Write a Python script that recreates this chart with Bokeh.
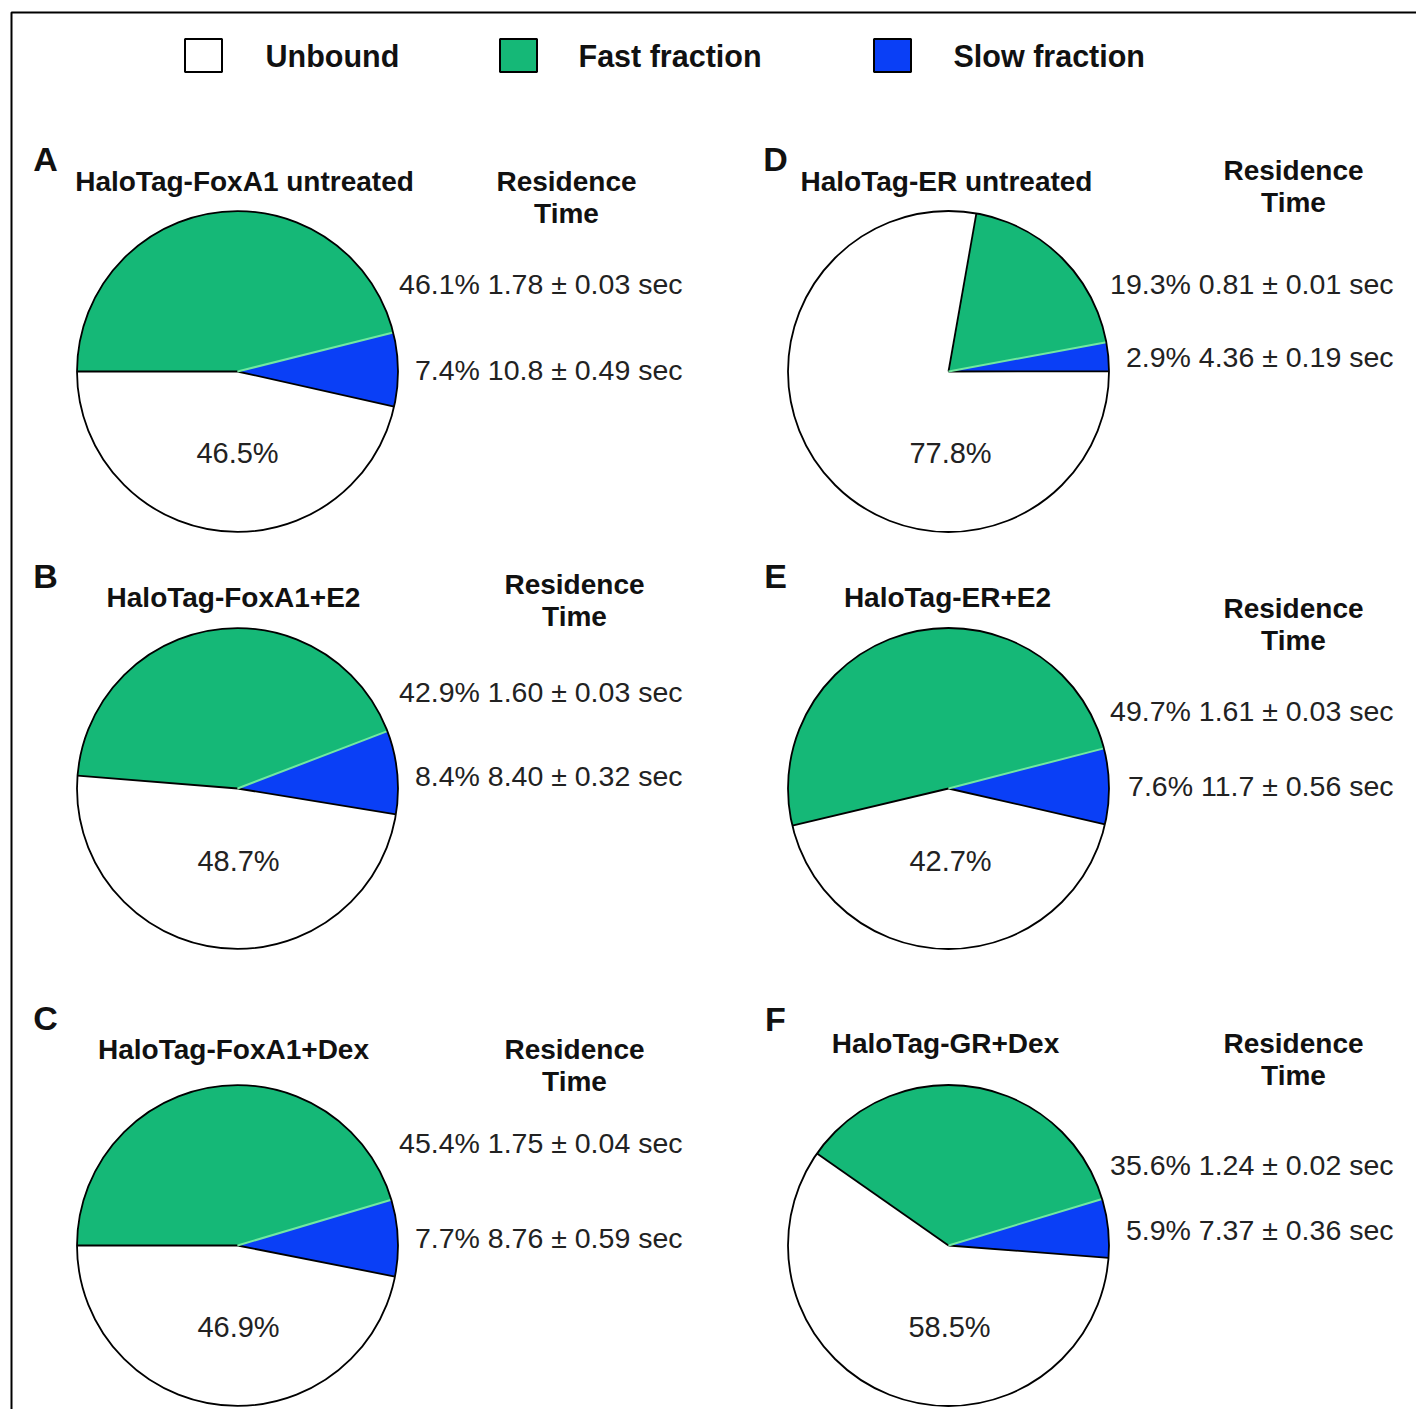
import math
from bokeh.plotting import figure
from bokeh.models import Range1d
from bokeh.core.properties import value
from bokeh.embed import file_html
from bokeh.resources import INLINE

# ---------------- data ----------------
panel_letters = ["A", "B", "C", "D", "E", "F"]
titles = ["HaloTag-FoxA1 untreated", "HaloTag-FoxA1+E2", "HaloTag-FoxA1+Dex",
          "HaloTag-ER untreated", "HaloTag-ER+E2", "HaloTag-GR+Dex"]
unbound_pct = [46.5, 48.7, 46.9, 77.8, 42.7, 58.5]
fast_pct = [46.1, 42.9, 45.4, 19.3, 49.7, 35.6]
slow_pct = [7.4, 8.4, 7.7, 2.9, 7.6, 5.9]
fast_time = ["1.78 ± 0.03 sec", "1.60 ± 0.03 sec", "1.75 ± 0.04 sec",
             "0.81 ± 0.01 sec", "1.61 ± 0.03 sec", "1.24 ± 0.02 sec"]
slow_time = ["10.8 ± 0.49 sec", "8.40 ± 0.32 sec", "8.76 ± 0.59 sec",
             "4.36 ± 0.19 sec", "11.7 ± 0.56 sec", "7.37 ± 0.36 sec"]
start_angle_deg = [180, 175.4, 180, 80, 193.4, 145]   # where the fast slice begins
legend_labels = ["Unbound", "Fast fraction", "Slow fraction"]

# ---------------- style / layout ----------------
W, H = 1416, 1409
C_UNB, C_FAST, C_SLOW = "#ffffff", "#15b877", "#0a3ff6"
C_EDGE_FS = "#72e8a0"
FONT = value("Liberation Sans")
R = 160.5

def Y(ypix):
    return H - ypix

def rad(d):
    return math.radians(d)

centers = [(237, 371), (237, 788), (237, 1245), (948, 371), (948, 788), (948, 1245)]
letter_pos = [(45, 158), (45, 575), (45, 1017), (775, 158), (775, 575), (775, 1018)]
title_pos = [(244, 181), (233, 597), (233, 1049), (946, 181), (947, 597), (945, 1043)]
res_pos = [(566, 181), (574, 584), (574, 1049), (1293, 170), (1293, 608), (1293, 1043)]
val_rows = [(283, 369), (691, 775), (1142, 1237), (283, 356), (710, 785), (1164, 1229)]
unb_lbl = [(237, 452), (238, 860), (238, 1326), (950, 452), (950, 860), (949, 1326)]
val_right = [682, 682, 682, 1393, 1393, 1393]

p = figure(width=W, height=H, x_range=Range1d(0, W), y_range=Range1d(0, H),
           output_backend="svg", toolbar_location=None, min_border=0)
p.axis.visible = False
p.grid.visible = False
p.outline_line_color = None
p.background_fill_color = "white"
p.border_fill_color = "white"

# frame (left + top)
p.line([11, 11, W], [Y(H), Y(12), Y(12)], line_color="black", line_width=2)

# legend
leg_box_x = [203, 518, 892]
leg_txt_x = [265, 578, 953]
for bx, tx, lab, col in zip(leg_box_x, leg_txt_x, legend_labels, [C_UNB, C_FAST, C_SLOW]):
    p.rect(x=bx, y=Y(55), width=37, height=33, fill_color=col, line_color="black", line_width=2)
    p.text(x=[tx], y=[Y(55)], text=[lab], text_font=FONT, text_font_style="bold",
           text_font_size="30.5px", text_baseline="middle", text_align="left", text_color="#111111")

for i in range(6):
    cx, cy = centers[i]
    cy = Y(cy)
    s = start_angle_deg[i]
    g = fast_pct[i] / 100 * 360
    b = slow_pct[i] / 100 * 360
    a_fs = s - g
    a_su = s - g - b
    p.wedge(x=cx, y=cy, radius=R, start_angle=rad(a_fs), end_angle=rad(s),
            fill_color=C_FAST, line_color=None)
    p.wedge(x=cx, y=cy, radius=R, start_angle=rad(a_su), end_angle=rad(a_fs),
            fill_color=C_SLOW, line_color=None)
    p.wedge(x=cx, y=cy, radius=R, start_angle=rad(s - 360), end_angle=rad(a_su),
            fill_color=C_UNB, line_color=None)
    p.ray(x=[cx, cx], y=[cy, cy], length=R, angle=[rad(s), rad(a_su)],
          line_color="black", line_width=1.8)
    p.ray(x=[cx], y=[cy], length=R, angle=[rad(a_fs)], line_color=C_EDGE_FS, line_width=2)
    p.circle(x=cx, y=cy, radius=R, fill_color=None, line_color="black", line_width=1.8)

    lx, ly = letter_pos[i]
    p.text(x=[lx], y=[Y(ly)], text=[panel_letters[i]], text_font=FONT, text_font_style="bold",
           text_font_size="34px", text_baseline="middle", text_align="center", text_color="#111111")
    tx, ty = title_pos[i]
    p.text(x=[tx], y=[Y(ty)], text=[titles[i]], text_font=FONT, text_font_style="bold",
           text_font_size="28px", text_baseline="middle", text_align="center", text_color="#111111")
    rx, ry = res_pos[i]
    p.text(x=[rx, rx], y=[Y(ry), Y(ry + 32)], text=["Residence", "Time"], text_font=FONT,
           text_font_style="bold", text_font_size="28px", text_baseline="middle",
           text_align="center", text_color="#111111")
    r1, r2 = val_rows[i]
    p.text(x=[val_right[i]] * 2, y=[Y(r1), Y(r2)],
           text=[f"{fast_pct[i]}% {fast_time[i]}", f"{slow_pct[i]}% {slow_time[i]}"],
           text_font=FONT, text_font_size="28.5px", text_baseline="middle", text_align="right",
           text_color="#222222")
    ux, uy = unb_lbl[i]
    p.text(x=[ux], y=[Y(uy)], text=[f"{unbound_pct[i]}%"], text_font=FONT,
           text_font_size="29px", text_baseline="middle", text_align="center", text_color="#222222")

open("out.html", "w").write(file_html(p, INLINE))
